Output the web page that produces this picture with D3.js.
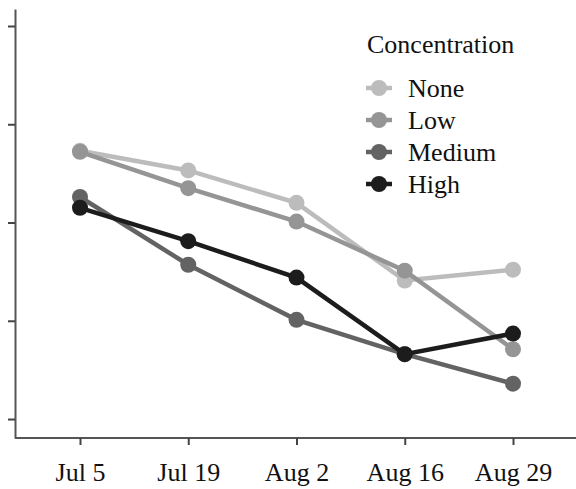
<!DOCTYPE html>
<html>
<head>
<meta charset="utf-8">
<script src="https://cdn.jsdelivr.net/npm/d3@7"></script>
<style>
  html, body { margin: 0; padding: 0; background: #fff; }
  svg { display: block; }
</style>
</head>
<body>
<svg id="chart" width="576" height="489"></svg>
<script>
// Sampling dates along the x axis
const dates = ["Jul 5", "Jul 19", "Aug 2", "Aug 16", "Aug 29"];

// Concentration levels (legend order)
const levels = ["None", "Low", "Medium", "High"];
const levelColors = ["#bcbcbc", "#959595", "#636363", "#1c1c1c"];

// Measured values per concentration level, one per date
const noneValues   = [2.73, 2.53, 2.20, 1.41, 1.52];
const lowValues    = [2.72, 2.35, 2.01, 1.51, 0.71];
const mediumValues = [2.26, 1.57, 1.01, 0.66, 0.36];
const highValues   = [2.15, 1.81, 1.44, 0.66, 0.87];

// Y axis tick positions (drawn without labels)
const yTicks = [0, 1, 2, 3, 4];

const serif = "'Liberation Serif', 'Times New Roman', serif";

const seriesValues = [noneValues, lowValues, mediumValues, highValues];
const series = levels.map((name, i) => ({
  name,
  color: levelColors[i],
  values: seriesValues[i].map((v, j) => ({ date: dates[j], value: v }))
}));

const svg = d3.select("#chart");
const axisLeftX = 15, axisBottomY = 438, axisTopY = 9, axisRightX = 576;

const x = d3.scalePoint()
  .domain(dates)
  .range([80, 513]);

const y = d3.scaleLinear()
  .domain([-0.193, 4.173])
  .range([axisBottomY, axisTopY]);

// Y axis: ticks only
const yAxis = svg.append("g")
  .attr("transform", `translate(${axisLeftX},0)`)
  .call(d3.axisLeft(y).tickValues(yTicks).tickFormat("").tickSize(7).tickSizeOuter(0));
yAxis.select(".domain").attr("stroke", "#555").attr("stroke-width", 2);
yAxis.selectAll(".tick line").attr("stroke", "#444").attr("stroke-width", 2);

// X axis
const xAxis = svg.append("g")
  .attr("transform", `translate(0,${axisBottomY})`)
  .call(d3.axisBottom(x).tickSize(7).tickSizeOuter(0).tickPadding(17.5));
xAxis.select(".domain").attr("d", `M${axisLeftX},0H${axisRightX}`)
  .attr("stroke", "#555").attr("stroke-width", 2);
xAxis.selectAll(".tick line").attr("stroke", "#444").attr("stroke-width", 2);
xAxis.selectAll(".tick text")
  .style("font-family", serif)
  .attr("font-size", 26)
  .attr("fill", "#111");

// Lines and points
const line = d3.line()
  .x(d => x(d.date))
  .y(d => y(d.value));

const g = svg.append("g");
series.forEach(s => {
  g.append("path")
    .datum(s.values)
    .attr("fill", "none")
    .attr("stroke", s.color)
    .attr("stroke-width", 4.5)
    .attr("d", line);
  g.selectAll(null)
    .data(s.values)
    .join("circle")
    .attr("cx", d => x(d.date))
    .attr("cy", d => y(d.value))
    .attr("r", 8)
    .attr("fill", s.color);
});

// Legend
const legend = svg.append("g").attr("transform", "translate(366,0)");
legend.append("text")
  .attr("x", 1).attr("y", 53)
  .style("font-family", serif)
  .attr("font-size", 26)
  .attr("fill", "#111")
  .text("Concentration");
const item = legend.selectAll(".item")
  .data(series)
  .join("g")
  .attr("class", "item")
  .attr("transform", (d, i) => `translate(0,${88 + i * 32})`);
item.append("line")
  .attr("x1", 0).attr("x2", 26)
  .attr("stroke", d => d.color)
  .attr("stroke-width", 4.5);
item.append("circle")
  .attr("cx", 13).attr("r", 8)
  .attr("fill", d => d.color);
item.append("text")
  .attr("x", 42).attr("y", 9)
  .style("font-family", serif)
  .attr("font-size", 26)
  .attr("fill", "#111")
  .text(d => d.name);
</script>
</body>
</html>
